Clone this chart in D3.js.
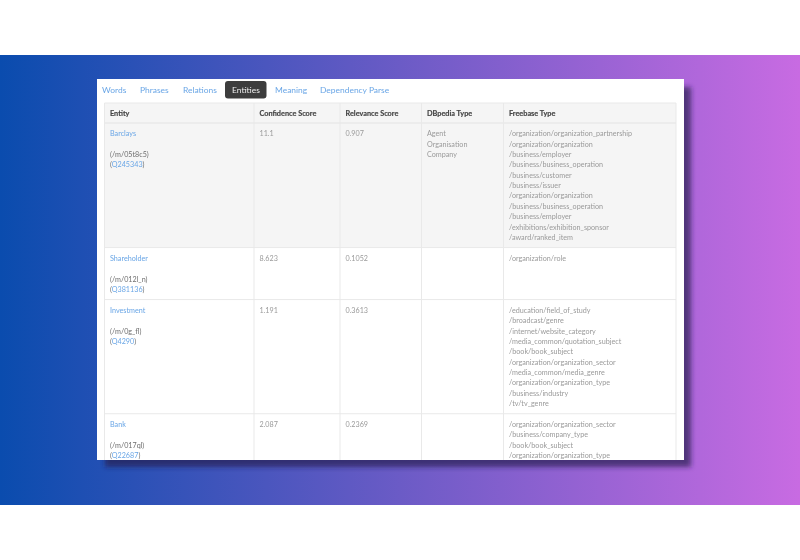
<!DOCTYPE html>
<html><head><meta charset="utf-8">
<script src="https://cdn.jsdelivr.net/npm/d3@7/dist/d3.min.js"></script>
<style>
html,body{margin:0;padding:0;background:#fff;overflow:hidden}
svg{display:block}
text{font-family:"Lato",sans-serif}
</style></head><body>
<svg id="c" width="800" height="560"></svg>
<script>
const tabs = ["Words","Phrases","Relations","Entities","Meaning","Dependency Parse"];
const activeTab = "Entities";
const columns = ["Entity","Confidence Score","Relevance Score","DBpedia Type","Freebase Type"];
const entities = ["Barclays","Shareholder","Investment","Bank"];
const mids = ["(/m/05t8c5)","(/m/012l_n)","(/m/0g_fl)","(/m/017ql)"];
const qids = ["Q245343","Q381136","Q4290","Q22687"];
const confidence = ["11.1","8.623","1.191","2.087"];
const relevance = ["0.907","0.1052","0.3613","0.2369"];
const dbpedia = [["Agent","Organisation","Company"],[],[],[]];
const freebase = [
 ["/organization/organization_partnership","/organization/organization","/business/employer","/business/business_operation","/business/customer","/business/issuer","/organization/organization","/business/business_operation","/business/employer","/exhibitions/exhibition_sponsor","/award/ranked_item"],
 ["/organization/role"],
 ["/education/field_of_study","/broadcast/genre","/internet/website_category","/media_common/quotation_subject","/book/book_subject","/organization/organization_sector","/media_common/media_genre","/organization/organization_type","/business/industry","/tv/tv_genre"],
 ["/organization/organization_sector","/business/company_type","/book/book_subject","/organization/organization_type","/business/industry"]
];

const svg = d3.select("#c");
const LH = 10.37, PAD = 10.5, FS = 7.2, HFS = 7.3;
const link = "#6aa6e6", grey = "#9a9a9a", dark = "#6e6e6e", line = "#e9e9e9";

const defs = svg.append("defs");
const g = defs.append("linearGradient").attr("id","bg");
[[0,"#0a4cae"],[0.5,"#6b5bc6"],[1,"#c86be2"]].forEach(s=>g.append("stop").attr("offset",s[0]).attr("stop-color",s[1]));
defs.append("filter").attr("id","sh").attr("x","-10%").attr("y","-10%").attr("width","120%").attr("height","120%")
  .append("feGaussianBlur").attr("stdDeviation",2.4);
defs.append("filter").attr("id","soft").attr("x","-2%").attr("y","-2%").attr("width","104%").attr("height","104%")
  .append("feGaussianBlur").attr("stdDeviation",0.35);
defs.append("clipPath").attr("id","card").append("rect").attr("x",97).attr("y",79).attr("width",587).attr("height",381);

svg.append("rect").attr("x",0).attr("y",55).attr("width",800).attr("height",450).attr("fill","url(#bg)");
svg.append("rect").attr("x",105).attr("y",87).attr("width",586).attr("height",380)
   .attr("fill","#221a4e").attr("fill-opacity",0.68).attr("filter","url(#sh)");
svg.append("rect").attr("x",97).attr("y",79).attr("width",587).attr("height",381).attr("fill","#fff");

const root = svg.append("g").attr("clip-path","url(#card)").append("g").attr("filter","url(#soft)");

// tabs
const tabX = d3.scaleOrdinal().domain(tabs).range([102,140,183,232,275,320]);
root.append("rect").attr("x",225).attr("y",81).attr("width",41.5).attr("height",17.5).attr("rx",3).attr("fill","#3c3c3c");
root.selectAll(".tab").data(tabs).join("text").attr("class","tab")
  .attr("x",d=>tabX(d)).attr("y",93.2).attr("font-size",8.45)
  .attr("fill",d=>d===activeTab?"#eeeeee":link).text(d=>d);

// table geometry
const colX = d3.scaleOrdinal().domain(columns).range([104.5,254,340,421.5,503.5]);
const tableRight = 676, tableTop = 103, headH = 20;
const rows = entities.map((e,i)=>({i,n:Math.max(4,freebase[i].length,dbpedia[i].length)}));
let yy = tableTop+headH;
rows.forEach(r=>{r.y=yy; r.h=r.n*LH+PAD; yy+=r.h;});
const tableBottom = yy;

root.append("rect").attr("x",104.5).attr("y",tableTop).attr("width",tableRight-104.5).attr("height",headH).attr("fill","#f5f5f5");
root.selectAll(".band").data(rows.filter(r=>r.i===0)).join("rect").attr("class","band")
  .attr("x",104.5).attr("y",r=>r.y).attr("width",tableRight-104.5).attr("height",r=>r.h).attr("fill","#f5f5f5");

// grid
root.selectAll(".v").data(columns.concat(["end"])).join("line").attr("class","v")
  .attr("x1",d=>d==="end"?tableRight:colX(d)).attr("x2",d=>d==="end"?tableRight:colX(d))
  .attr("y1",tableTop).attr("y2",tableBottom).attr("stroke",line).attr("stroke-width",1);
root.append("line").attr("x1",104.5).attr("x2",tableRight).attr("y1",tableTop).attr("y2",tableTop).attr("stroke",line).attr("stroke-width",1);
root.append("line").attr("x1",104.5).attr("x2",tableRight).attr("y1",tableTop+headH).attr("y2",tableTop+headH).attr("stroke",line).attr("stroke-width",1.6);
root.selectAll(".h").data(rows).join("line").attr("class","h")
  .attr("x1",104.5).attr("x2",tableRight).attr("y1",r=>r.y+r.h).attr("y2",r=>r.y+r.h).attr("stroke",line).attr("stroke-width",1);

// header
root.selectAll(".th").data(columns).join("text").attr("class","th")
  .attr("x",d=>colX(d)+5.5).attr("y",tableTop+12.6).attr("font-size",HFS).attr("font-weight",700)
  .attr("fill","#444").attr("stroke","#444").attr("stroke-width",0.15).text(d=>d);

// cells
const textY = (r,k)=>r.y+PAD/2+LH*k+8;
function cell(cls,col,accessor,fill){
  root.selectAll("."+cls).data(rows.flatMap(r=>accessor(r.i).map((t,k)=>({r,k,t})))).join("text").attr("class",cls)
    .attr("x",colX(col)+5.5).attr("y",d=>textY(d.r,d.k)).attr("font-size",FS).attr("fill",fill).text(d=>d.t);
}
cell("ent",columns[0],i=>[entities[i]],link);
cell("mid",columns[0],i=>["","",mids[i]],dark);
const qt = root.selectAll(".q").data(rows).join("text").attr("class","q")
  .attr("x",colX(columns[0])+5.5).attr("y",r=>textY(r,3)).attr("font-size",FS).attr("fill",dark);
qt.append("tspan").text("(");
qt.append("tspan").attr("fill",link).text(r=>qids[r.i]);
qt.append("tspan").text(")");
cell("conf",columns[1],i=>[confidence[i]],grey);
cell("rel",columns[2],i=>[relevance[i]],grey);
cell("db",columns[3],i=>dbpedia[i],grey);
cell("fb",columns[4],i=>freebase[i],grey);
</script>
</body></html>
